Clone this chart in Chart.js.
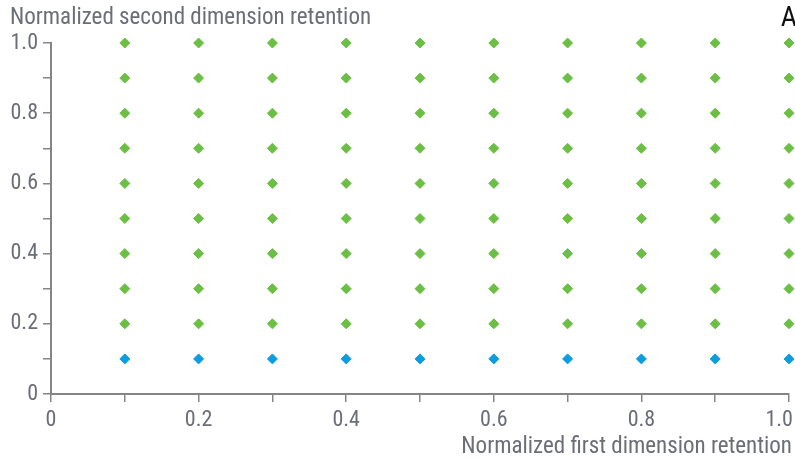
<!DOCTYPE html>
<html>
<head>
<meta charset="utf-8">
<script src="https://cdn.jsdelivr.net/npm/chart.js@4/dist/chart.umd.min.js"></script>
<style>
  html, body { margin: 0; padding: 0; background: #fff; }
  #wrap { width: 795px; height: 460px; position: relative; }
</style>
</head>
<body>
<div id="wrap"><canvas id="gridChart"></canvas></div>
<script>
// grid of normalized retention positions
const firstDim = [0.1, 0.2, 0.3, 0.4, 0.5, 0.6, 0.7, 0.8, 0.9, 1.0];
const secondDimBlue = [0.1];
const secondDimGreen = [0.2, 0.3, 0.4, 0.5, 0.6, 0.7, 0.8, 0.9, 1.0];
const tickLabels = ['0', '0.2', '0.4', '0.6', '0.8', '1.0'];

const FONT = "'Liberation Sans Narrow', 'Roboto Condensed', Roboto, sans-serif";
const TEXT = '#6b6d77';
const AXIS = '#858585';

const toPoints = ys => ys.flatMap(y => firstDim.map(x => ({ x, y })));

const labelFor = v => {
    const s = Math.round(v * 10) % 2 === 0 ? (v === 0 ? '0' : v.toFixed(1)) : '';
    return tickLabels.includes(s) ? s : '';
};

const titles = {
    id: 'titles',
    afterDraw(chart) {
        const ctx = chart.ctx;
        ctx.save();
        ctx.fillStyle = TEXT;
        ctx.font = '23px ' + FONT;
        ctx.textBaseline = 'middle';
        ctx.textAlign = 'left';
        ctx.fillText('Normalized second dimension retention', 10, 18);
        ctx.textAlign = 'right';
        ctx.fillText('Normalized first dimension retention', 792, 447);
        ctx.fillStyle = '#111';
        ctx.font = '28px ' + FONT;
        ctx.fillText('A', 797, 19);
        ctx.restore();
    }
};

new Chart(document.getElementById('gridChart'), {
    type: 'scatter',
    data: {
        datasets: [{
            data: toPoints(secondDimGreen),
            backgroundColor: '#6cbf45',
            borderColor: '#6cbf45',
            pointStyle: 'rectRot',
            pointRadius: 5,
            pointHoverRadius: 5
        }, {
            data: toPoints(secondDimBlue),
            backgroundColor: '#0b9de0',
            borderColor: '#0b9de0',
            pointStyle: 'rectRot',
            pointRadius: 5,
            pointHoverRadius: 5
        }]
    },
    plugins: [titles],
    options: {
        responsive: true,
        maintainAspectRatio: false,
        animation: false,
        clip: false,
        layout: { padding: { top: 43, right: 5, left: 0, bottom: 0 } },
        plugins: {
            legend: { display: false },
            tooltip: { enabled: false }
        },
        scales: {
            x: {
                min: 0,
                max: 1,
                afterFit: s => { s.height = 66; s.paddingLeft = 0; s.paddingRight = 0; },
                border: { color: AXIS, width: 2 },
                grid: { drawOnChartArea: false, color: AXIS, tickLength: 8, lineWidth: 1.5 },
                ticks: {
                    stepSize: 0.1,
                    autoSkip: false,
                    maxRotation: 0,
                    padding: 5,
                    color: TEXT,
                    font: { family: FONT, size: 22 },
                    // last label sits shifted left against the right edge
                    callback: v => (labelFor(v) === '1.0' ? '1.0\u2002\u2002' : labelFor(v))
                }
            },
            y: {
                min: 0,
                max: 1,
                afterFit: s => { s.width = 51; s.paddingTop = 0; s.paddingBottom = 0; },
                border: { color: AXIS, width: 2 },
                grid: { drawOnChartArea: false, color: AXIS, tickLength: 8, lineWidth: 1.5 },
                ticks: {
                    stepSize: 0.1,
                    autoSkip: false,
                    padding: 5,
                    color: TEXT,
                    font: { family: FONT, size: 22 },
                    callback: v => labelFor(v)
                }
            }
        }
    }
});
</script>
</body>
</html>
